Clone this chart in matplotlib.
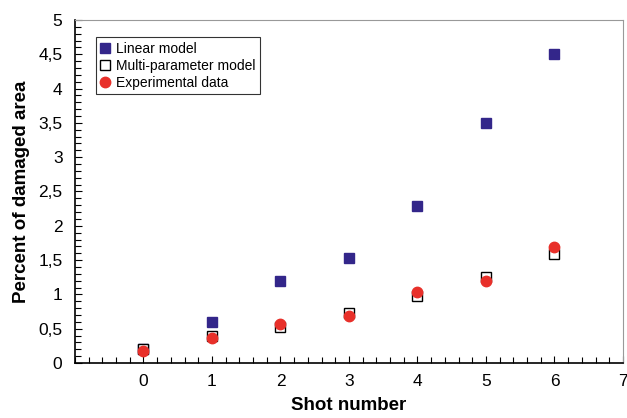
import numpy as np
import matplotlib.pyplot as plt
from matplotlib.ticker import MultipleLocator, FuncFormatter

plt.rcParams['font.family'] = ['Liberation Sans', 'DejaVu Sans']

shots = [0, 1, 2, 3, 4, 5, 6]
linear_model = [0.2, 0.6, 1.2, 1.53, 2.29, 3.5, 4.5]
multi_model = [0.2, 0.39, 0.53, 0.73, 0.98, 1.25, 1.59]
experimental = [0.18, 0.37, 0.57, 0.69, 1.04, 1.19, 1.69]

fig = plt.figure(figsize=(6.27, 4.18), dpi=100)
ax = fig.add_axes([0.1196, 0.1316, 0.874, 0.8206])

ax.plot(shots, linear_model, 's', color='#33268a', markersize=6.5, linestyle='none',
        label='Linear model', zorder=3)
ax.plot(shots, multi_model, 's', mfc='white', mec='black', mew=1.0, markersize=6.5,
        linestyle='none', label='Multi-parameter model', zorder=4)
ax.plot(shots, experimental, 'o', color='#e8302a', markersize=7.5, linestyle='none',
        label='Experimental data', zorder=5)

ax.set_xlim(-1, 7)
ax.set_ylim(0, 5)
ax.set_xticks([0, 1, 2, 3, 4, 5, 6, 7])
ax.set_yticks(np.arange(0, 5.01, 0.5))
ax.xaxis.set_minor_locator(MultipleLocator(0.2))
ax.yaxis.set_minor_locator(MultipleLocator(0.1))
ax.yaxis.set_major_formatter(FuncFormatter(lambda v, p: ('%g' % v).replace('.', ',')))
ax.tick_params(which='both', direction='in', labelsize=12.5, top=False, right=False)
ax.tick_params(which='major', length=5, width=0.8)
ax.tick_params(which='minor', length=4, width=0.8)
ax.tick_params(axis='x', pad=8)
ax.tick_params(axis='y', pad=9)

for s in ['top', 'right']:
    ax.spines[s].set_color('#999999')
for s in ['left', 'bottom']:
    ax.spines[s].set_color('black')
    ax.spines[s].set_linewidth(1.2)

ax.set_xlabel('Shot number', fontsize=13.5, fontweight='bold', labelpad=6)
ax.set_ylabel('Percent of damaged area', fontsize=13.5, fontweight='bold', labelpad=6)

leg = ax.legend(loc='upper left', bbox_to_anchor=(0.038, 0.95), fontsize=10,
                frameon=True, fancybox=False, edgecolor='black', handlelength=0.6,
                handletextpad=0.5, borderpad=0.35, labelspacing=0.2, borderaxespad=0)
leg.get_frame().set_linewidth(0.8)

fig.savefig('out.png', dpi=100)
